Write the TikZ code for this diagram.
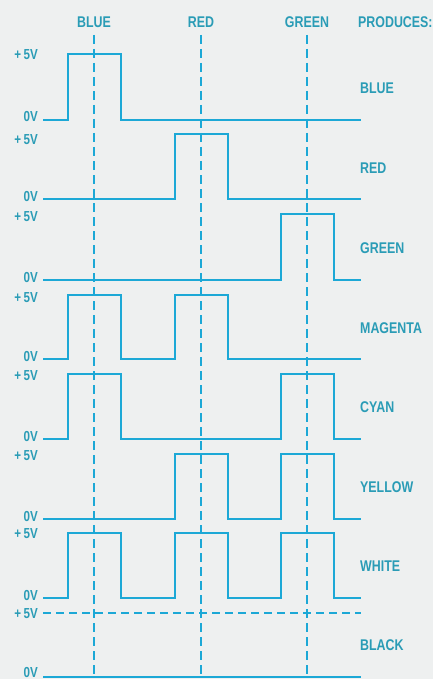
\documentclass[tikz,border=0pt]{standalone}
\usepackage{fontspec}
\setmainfont[FakeStretch=0.8]{Liberation Sans}
\usepackage{tikz}
\definecolor{trace}{RGB}{28,168,214}
\definecolor{ink}{RGB}{42,156,182}
\definecolor{paper}{RGB}{238,240,240}
\tikzstyle{signal}=[trace, line width=2.6pt]
\tikzstyle{guide}=[trace, line width=1.8pt, dash pattern=on 9pt off 5pt]
\tikzstyle{level}=[ink, font=\fontsize{14.5}{15}\selectfont\bfseries, anchor=base east, inner sep=0pt]
\tikzstyle{colour}=[ink, font=\fontsize{15.5}{16}\selectfont\bfseries, anchor=west, inner sep=0pt]
\tikzstyle{head}=[colour, anchor=center]

\begin{document}
\begin{tikzpicture}[x=1pt, y=-1pt]
	\fill[paper] (0,0) rectangle (433,679);
	\useasboundingbox (0,0) rectangle (433,679);

	% column heads
	\node[head] (hblue) at (94,22) {BLUE};
	\node[head] (hred) at (201,22) {RED};
	\node[head] (hgreen) at (307,22) {GREEN};
	\node[colour] (hprod) at (358,22) {PRODUCES:};

	% sampling guides
	\foreach \x in {94,201,307}
		\draw[guide] (\x,35) -- (\x,679);

	% blue
	\node[level] (p1) at (38,60) {+\,5V};
	\node[level] (z1) at (38,122) {0V};
	\node[colour] (c1) at (360,88) {BLUE};
	\draw[signal] (43,120) -| (68,54) -| (121,120) -- (361,120);

	% red
	\node[level] (p2) at (38,145) {+\,5V};
	\node[level] (z2) at (38,201) {0V};
	\node[colour] (c2) at (360,168) {RED};
	\draw[signal] (43,199) -| (175,134) -| (228,199) -- (361,199);

	% green
	\node[level] (p3) at (38,221) {+\,5V};
	\node[level] (z3) at (38,282) {0V};
	\node[colour] (c3) at (360,248) {GREEN};
	\draw[signal] (43,280) -| (281,214) -| (334,280) -- (361,280);

	% magenta
	\node[level] (p4) at (38,302) {+\,5V};
	\node[level] (z4) at (38,361) {0V};
	\node[colour] (c4) at (360,328) {MAGENTA};
	\draw[signal] (43,359) -| (68,295) -| (121,359) -| (175,295) -| (228,359) -- (361,359);

	% cyan
	\node[level] (p5) at (38,380) {+\,5V};
	\node[level] (z5) at (38,441) {0V};
	\node[colour] (c5) at (360,407) {CYAN};
	\draw[signal] (43,439) -| (68,374) -| (121,439) -| (281,374) -| (334,439) -- (361,439);

	% yellow
	\node[level] (p6) at (38,460) {+\,5V};
	\node[level] (z6) at (38,521) {0V};
	\node[colour] (c6) at (360,487) {YELLOW};
	\draw[signal] (43,519) -| (175,454) -| (228,519) -| (281,454) -| (334,519) -- (361,519);

	% white
	\node[level] (p7) at (38,538) {+\,5V};
	\node[level] (z7) at (38,600) {0V};
	\node[colour] (c7) at (360,566) {WHITE};
	\draw[signal] (43,598) -| (68,533) -| (121,598) -| (175,533) -| (228,598) -| (281,533) -| (334,598) -- (361,598);

	% black
	\node[level] (p8) at (38,618) {+\,5V};
	\node[level] (z8) at (38,677) {0V};
	\node[colour] (c8) at (360,645) {BLACK};
	\draw[guide, dash pattern=on 8pt off 5pt] (43,613) -- (361,613);
	\draw[signal] (43,677) -- (361,677);
\end{tikzpicture}
\end{document}
